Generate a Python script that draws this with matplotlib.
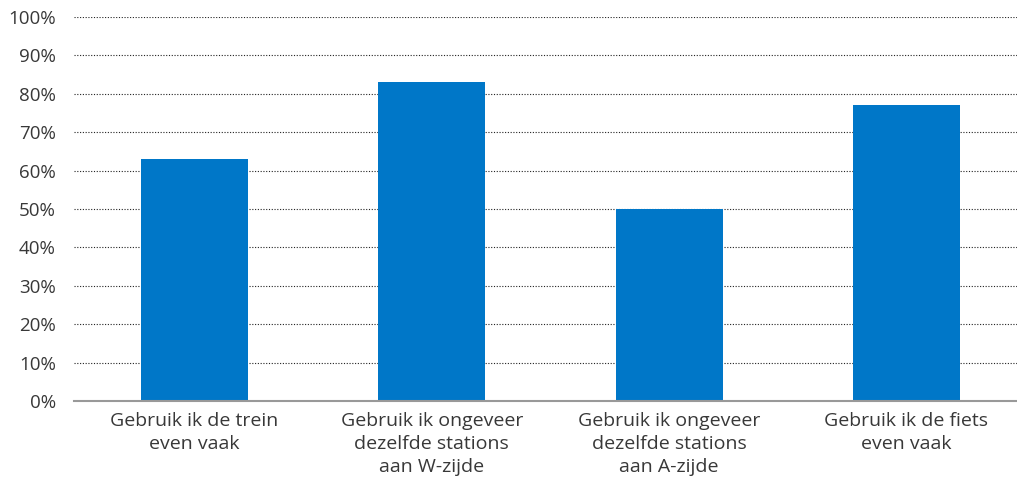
import matplotlib
matplotlib.use("Agg")
import matplotlib.pyplot as plt
from matplotlib.ticker import FixedLocator, FuncFormatter

categories = [
    "Gebruik ik de trein\neven vaak",
    "Gebruik ik ongeveer\ndezelfde stations\naan W-zijde",
    "Gebruik ik ongeveer\ndezelfde stations\naan A-zijde",
    "Gebruik ik de fiets\neven vaak",
]
values = [63, 83, 50, 77]
y_ticks = [0, 10, 20, 30, 40, 50, 60, 70, 80, 90, 100]

bar_color = "#0077C8"
text_color = "#383838"

plt.rcParams["font.family"] = ["Open Sans", "DejaVu Sans"]

fig = plt.figure(figsize=(10.17, 4.83), dpi=100)
W, H = 1017, 483
ax = fig.add_axes([74 / W, (H - 401) / H, (W - 74) / W, (401 - 17) / H])

x = list(range(len(categories)))
ax.bar(x, values, width=0.45, color=bar_color, zorder=3)

ax.set_ylim(0, 100)
ax.set_xlim(-0.508, 3.466)

ax.yaxis.set_major_locator(FixedLocator(y_ticks))
ax.yaxis.set_major_formatter(FuncFormatter(lambda v, p: f"{int(v)}%"))
for t in y_ticks[1:]:
    ax.axhline(t, color="#222222", linewidth=0.8, linestyle=(0, (1, 1.5)), zorder=1)
ax.axhline(0, color="#999999", linewidth=1.5, zorder=4, clip_on=False)

ax.set_xticks(x)
ax.set_xticklabels(categories, linespacing=1.35)

for s in ax.spines.values():
    s.set_visible(False)
ax.tick_params(axis="y", length=0, labelsize=13.5, colors=text_color, pad=13)
ax.tick_params(axis="x", length=0, labelsize=14, colors=text_color, pad=8)

fig.savefig("out.png", dpi=100)
